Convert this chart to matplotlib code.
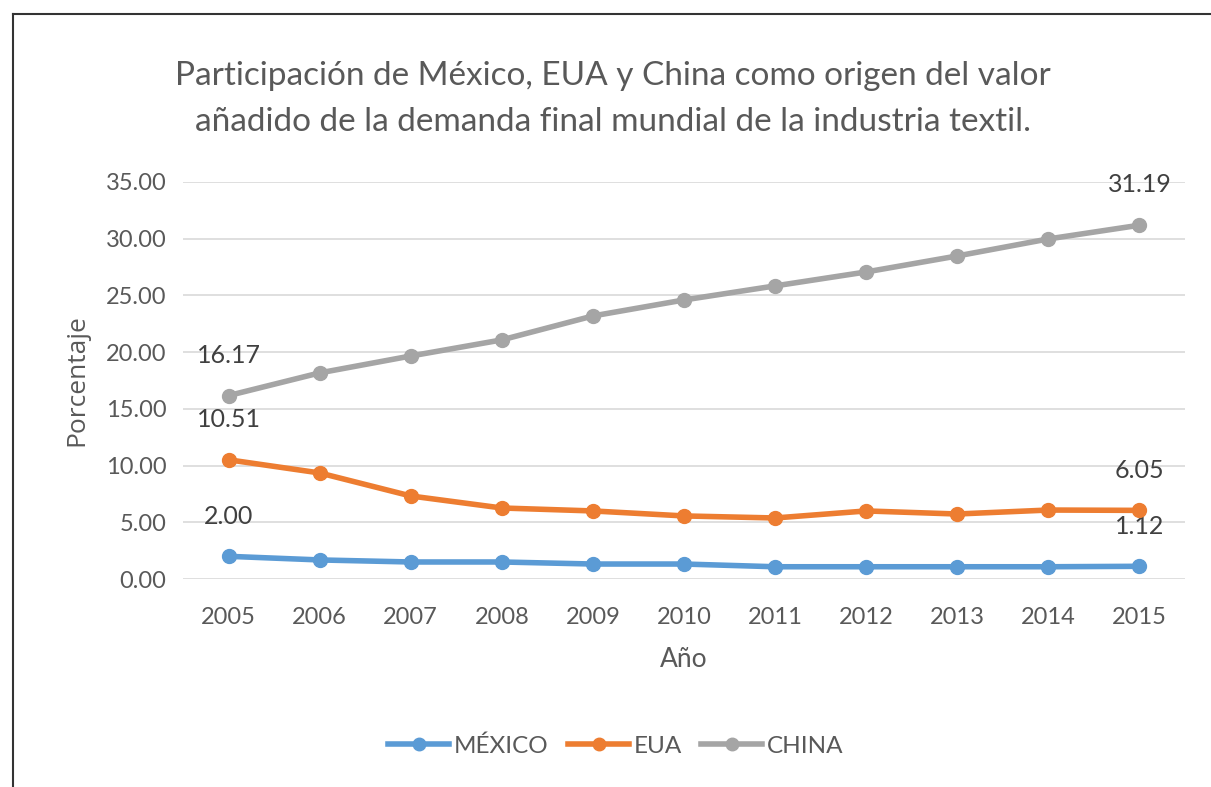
import matplotlib.pyplot as plt
from matplotlib.lines import Line2D

plt.rcParams['font.family'] = ['Lato', 'DejaVu Sans']

years = ['2005', '2006', '2007', '2008', '2009', '2010', '2011', '2012', '2013', '2014', '2015']
mexico = [2.00, 1.68, 1.50, 1.50, 1.32, 1.32, 1.08, 1.08, 1.08, 1.08, 1.12]
eua = [10.51, 9.35, 7.32, 6.26, 6.00, 5.56, 5.38, 6.00, 5.73, 6.08, 6.05]
china = [16.17, 18.17, 19.66, 21.08, 23.19, 24.60, 25.84, 27.07, 28.48, 29.98, 31.19]

series = [('MÉXICO', mexico, '#5B9BD5'), ('EUA', eua, '#ED7D31'), ('CHINA', china, '#A5A5A5')]
text_color = '#595959'

fig = plt.figure(figsize=(12.11, 7.87), dpi=100)
ax = fig.add_axes([183 / 1211, 1 - 579 / 787, 1002 / 1211, 397 / 787])

x = list(range(len(years)))
for name, vals, color in series:
    ax.plot(x, vals, color=color, lw=4, marker='o', ms=10, label=name,
            solid_capstyle='round', zorder=3)
    # first and last values are labelled
    for i in (0, len(vals) - 1):
        ax.annotate(f'{vals[i]:.2f}', (x[i], vals[i]), xytext=(0, 29),
                    textcoords='offset points', ha='center', va='center',
                    fontsize=18, color='#404040')

ax.set_xlim(-0.5, len(years) - 0.5)
ax.set_ylim(0, 35)
ax.set_yticks([0, 5, 10, 15, 20, 25, 30, 35])
ax.set_yticklabels([f'{v:.2f}' for v in ax.get_yticks()])
ax.set_xticks(x)
ax.set_xticklabels(years)
ax.tick_params(length=0, labelsize=17, colors=text_color)
ax.tick_params(axis='x', pad=20)
ax.tick_params(axis='y', pad=12)
ax.grid(axis='y', color='#D9D9D9', lw=1.2)
ax.set_axisbelow(True)
for s in ax.spines.values():
    s.set_visible(False)

ax.set_xlabel('Año', fontsize=19, color=text_color, labelpad=14)
ax.set_ylabel('Porcentaje', fontsize=19, color=text_color, labelpad=12,
              family=['Open Sans', 'DejaVu Sans'])

fig.text(613 / 1211, 1 - 99 / 787,
         'Participación de México, EUA y China como origen del valor\n'
         'añadido de la demanda final mundial de la industria textil.',
         ha='center', va='center', fontsize=24, color=text_color, linespacing=1.65)

handles = [Line2D([0], [0], color=c, lw=4, marker='o', ms=9) for _, _, c in series]
fig.legend(handles, [n for n, _, _ in series], loc='center',
           bbox_to_anchor=(616 / 1211, 1 - 746 / 787), ncol=3, frameon=False,
           fontsize=17.5, labelcolor=text_color, handlelength=2.5, columnspacing=0.8,
           handletextpad=0.2)

# outer frame (left and top only)
fig.add_artist(Line2D([13 / 1211, 13 / 1211], [0, 1 - 14 / 787], color='#333333', lw=1.5,
                      transform=fig.transFigure))
fig.add_artist(Line2D([13 / 1211, 1], [1 - 14 / 787, 1 - 14 / 787], color='#333333',
                      lw=1.5, transform=fig.transFigure))

fig.savefig('out.png', dpi=100)
